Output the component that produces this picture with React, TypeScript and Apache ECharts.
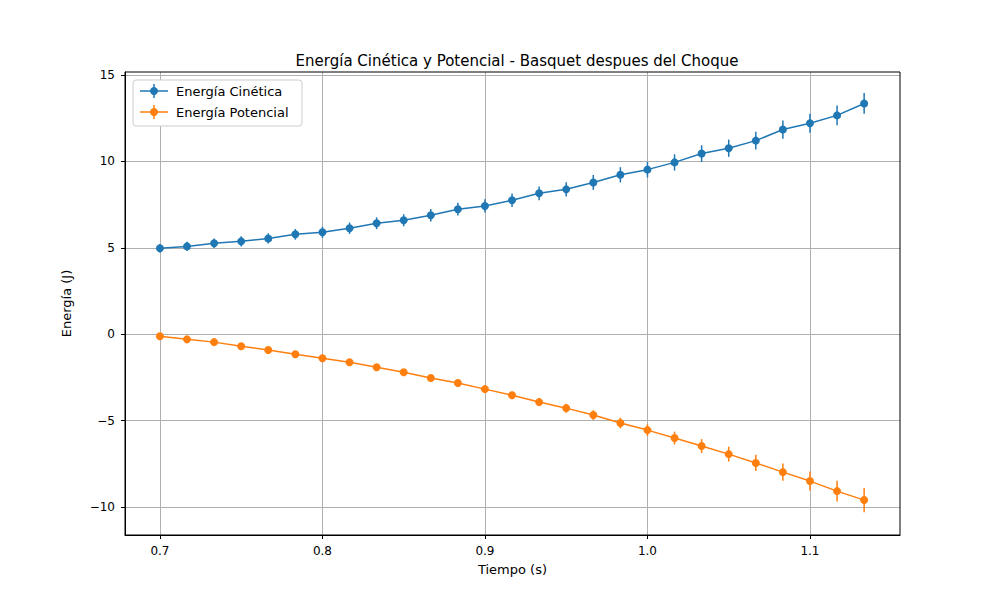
import React, { useEffect, useRef } from 'react';
import * as echarts from 'echarts';

const tiempo = Array.from({ length: 27 }, (_, i) => 0.7 + i / 60);
const cinetica = [4.97, 5.08, 5.26, 5.37, 5.54, 5.78, 5.9, 6.13, 6.42, 6.59, 6.88, 7.23, 7.42, 7.75, 8.15, 8.38, 8.78, 9.22, 9.52, 9.94, 10.45, 10.76, 11.2, 11.84, 12.2, 12.66, 13.35];
const errCinetica = [0.25, 0.27, 0.28, 0.29, 0.3, 0.31, 0.32, 0.33, 0.34, 0.35, 0.36, 0.37, 0.38, 0.39, 0.4, 0.41, 0.43, 0.44, 0.45, 0.47, 0.48, 0.5, 0.51, 0.53, 0.55, 0.57, 0.6];
const potencial = [-0.12, -0.3, -0.46, -0.7, -0.92, -1.16, -1.39, -1.62, -1.91, -2.2, -2.54, -2.83, -3.18, -3.53, -3.93, -4.28, -4.68, -5.14, -5.55, -6.01, -6.47, -6.94, -7.45, -7.98, -8.5, -9.08, -9.6];
const errPotencial = [0.02, 0.03, 0.04, 0.05, 0.06, 0.08, 0.09, 0.1, 0.12, 0.13, 0.15, 0.17, 0.19, 0.21, 0.23, 0.26, 0.28, 0.31, 0.34, 0.37, 0.4, 0.43, 0.47, 0.5, 0.55, 0.6, 0.7];
const xTicks = [0.7, 0.8, 0.9, 1.0, 1.1];
const yTicks = [-10, -5, 0, 5, 10, 15];

const BLUE = '#1f77b4';
const ORANGE = '#ff7f0e';
const FONT = 'DejaVu Sans';

const errorSeries = (name: string, ys: number[], errs: number[], color: string) => ({
  type: 'custom',
  name,
  silent: true,
  z: 3,
  data: tiempo.map((t, i) => [t, ys[i] - errs[i], ys[i] + errs[i]]),
  renderItem: (params: any, api: any) => {
    const lo = api.coord([api.value(0), api.value(1)]);
    const hi = api.coord([api.value(0), api.value(2)]);
    return {
      type: 'line',
      shape: { x1: lo[0], y1: lo[1], x2: hi[0], y2: hi[1] },
      style: { stroke: color, lineWidth: 1.5 },
    };
  },
});

const lineSeries = (name: string, ys: number[], color: string) => ({
  type: 'line',
  name,
  z: 4,
  data: tiempo.map((t, i) => [t, ys[i]]),
  symbol: 'circle',
  symbolSize: 8,
  lineStyle: { color, width: 1.5 },
  itemStyle: { color },
});

const legendItem = (y: number, color: string, label: string) => [
  { type: 'line', z: 30, shape: { x1: 140, y1: y, x2: 168, y2: y }, style: { stroke: color, lineWidth: 1.5 } },
  { type: 'line', z: 30, shape: { x1: 154, y1: y - 7, x2: 154, y2: y + 7 }, style: { stroke: color, lineWidth: 1.5 } },
  { type: 'circle', z: 31, shape: { cx: 154, cy: y, r: 4 }, style: { fill: color } },
  { type: 'text', z: 31, x: 176, y, style: { text: label, font: `13px "${FONT}"`, fill: '#000', verticalAlign: 'middle' } },
];

const App: React.FC = () => {
  const chartRef = useRef<HTMLDivElement>(null);

  useEffect(() => {
    if (!chartRef.current) return;
    const chart = echarts.init(chartRef.current, null, { renderer: 'svg' });

    chart.setOption({
      animation: false,
      backgroundColor: '#fff',
      textStyle: { fontFamily: FONT },
      title: {
        text: 'Energía Cinética y Potencial - Basquet despues del Choque',
        left: 512,
        textAlign: 'center',
        top: 48,
        textStyle: { fontSize: 15, fontWeight: 'normal', color: '#000', fontFamily: FONT },
      },
      grid: { left: 125, right: 100, top: 72, bottom: 65 },
      xAxis: {
        type: 'value',
        min: 0.6785,
        max: 1.1554,
        name: 'Tiempo (s)',
        nameLocation: 'middle',
        nameGap: 28,
        nameTextStyle: { fontSize: 13, color: '#000' },
        axisLine: { onZero: false, lineStyle: { color: '#000' } },
        axisTick: { customValues: xTicks, length: 4, lineStyle: { color: '#000' } },
        axisLabel: { customValues: xTicks, color: '#000', fontSize: 12, margin: 10, formatter: (v: number) => v.toFixed(1) },
        splitLine: { show: true, lineStyle: { color: '#b0b0b0', width: 1 } },
      },
      yAxis: {
        type: 'value',
        min: -11.62,
        max: 15.17,
        name: 'Energía (J)',
        nameLocation: 'middle',
        nameGap: 52,
        nameTextStyle: { fontSize: 13, color: '#000' },
        axisLine: { show: true, onZero: false, lineStyle: { color: '#000' } },
        axisTick: { show: true, customValues: yTicks, length: 4, lineStyle: { color: '#000' } },
        axisLabel: { customValues: yTicks, color: '#000', fontSize: 12, margin: 10, formatter: (v: number) => (v < 0 ? '\u2212' + Math.abs(v) : String(v)) },
        splitLine: { show: true, lineStyle: { color: '#b0b0b0', width: 1 } },
      },
      graphic: [
        { type: 'rect', z: 10, shape: { x: 125, y: 72, width: 775, height: 463 }, style: { fill: 'none', stroke: '#000', lineWidth: 1 } },
        { type: 'rect', z: 20, shape: { x: 133, y: 80, width: 169, height: 46, r: 3 }, style: { fill: '#fff', stroke: '#ccc', lineWidth: 1 } },
        ...legendItem(91, BLUE, 'Energía Cinética'),
        ...legendItem(112, ORANGE, 'Energía Potencial'),
      ],
      series: [
        errorSeries('errC', cinetica, errCinetica, BLUE),
        lineSeries('Energía Cinética', cinetica, BLUE),
        errorSeries('errP', potencial, errPotencial, ORANGE),
        lineSeries('Energía Potencial', potencial, ORANGE),
      ],
    });

    return () => chart.dispose();
  }, []);

  return <div ref={chartRef} style={{ position: 'fixed', left: 0, top: 0, width: 1000, height: 600 }} />;
};

export default App;
